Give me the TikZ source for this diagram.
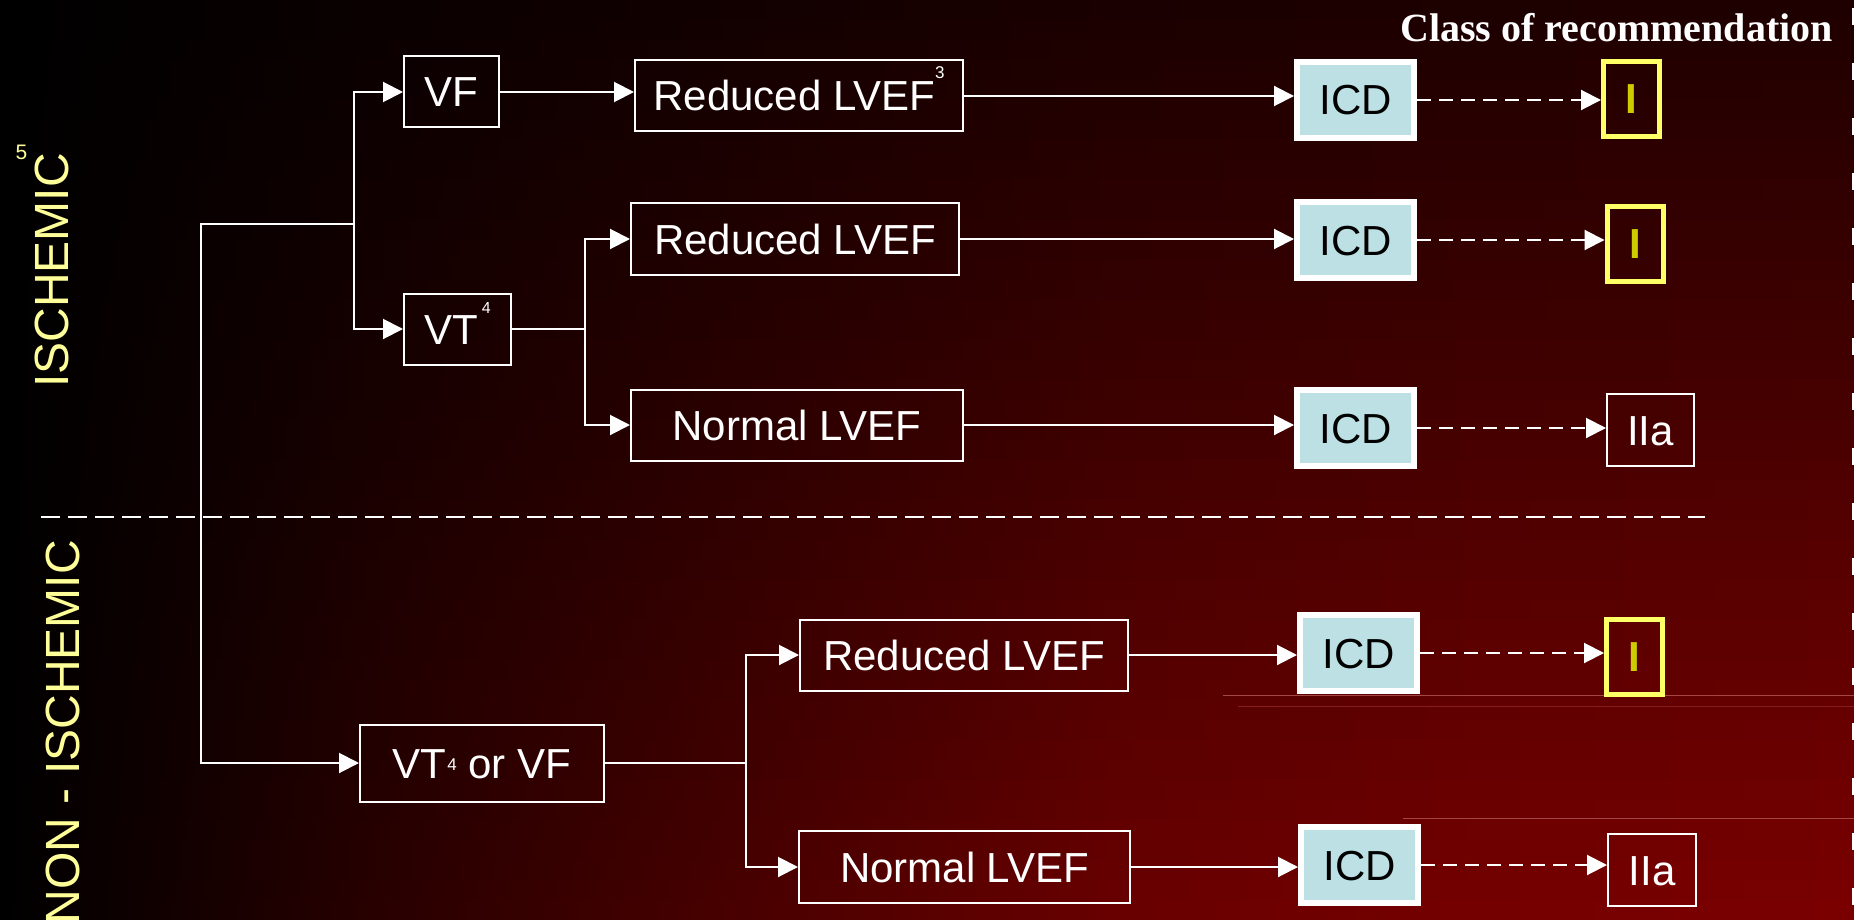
\documentclass[tikz,border=0pt]{standalone}
\usepackage{fontspec}
\setmainfont{Liberation Sans}
\newfontfamily\clsfont{Liberation Serif}
\usetikzlibrary{arrows.meta}
\definecolor{icdblue}{RGB}{188,224,228}
\definecolor{ylwbox}{RGB}{255,255,102}
\definecolor{olivey}{RGB}{204,204,0}
\definecolor{labely}{RGB}{255,255,153}
\definecolor{faintl}{RGB}{165,70,70}
\definecolor{faintd}{RGB}{135,30,30}
\definecolor{ca}{RGB}{0,0,0}
\definecolor{cb}{RGB}{0,0,0}
\definecolor{cc}{RGB}{0,0,0}
\definecolor{cd}{RGB}{0,0,0}
\definecolor{ce}{RGB}{0,0,0}
\pgfdeclarehorizontalshading[ca,cb,cc,cd,ce]{bgshade}{100bp}{color(0bp)=(black); color(25bp)=(black); color(35bp)=(ca); color(45bp)=(cb); color(55bp)=(cc); color(65bp)=(cd); color(75bp)=(ce); color(100bp)=(ce)}
\newcommand\boxfont{\fontsize{42}{42}\selectfont}
\newcommand\supfont{\fontsize{17}{17}\selectfont}
\begin{document}
\begin{tikzpicture}[x=1pt,y=-1pt,
  box/.style={draw=white, line width=2pt, text=white, inner sep=0pt, font=\boxfont, text height=30pt, text depth=0pt},
  icd/.style={draw=white, line width=6pt, fill=icdblue, text=black, inner sep=0pt, font=\boxfont, text height=30pt, text depth=0pt, minimum width=117pt, minimum height=76pt},
  clsbox/.style={draw=ylwbox, line width=5pt, text=olivey, inner sep=0pt, font=\boxfont\bfseries, text height=30pt, text depth=0pt, minimum width=56pt, minimum height=75pt},
  wire/.style={white, line width=2pt},
  arr/.style={wire, -{Triangle[length=20pt,width=20pt]}},
  darr/.style={arr, dash pattern=on 14pt off 8pt},
  lab/.style={rotate=90, inner sep=0pt, text=labely, font=\fontsize{48}{48}\selectfont}
]
\useasboundingbox (0,0) rectangle (1854,920);
% background
\foreach \i in {0,...,45}{
  \pgfmathtruncatemacro\rr{30+94*(\i+0.5)/46}
  \pgfmathtruncatemacro\ra{0.33*\rr}
  \pgfmathtruncatemacro\rb{0.60*\rr}
  \pgfmathtruncatemacro\rc{0.86*\rr}
  \pgfmathtruncatemacro\rd{0.96*\rr}
  \definecolor{ca}{RGB}{\ra,0,0}
  \definecolor{cb}{RGB}{\rb,0,0}
  \definecolor{cc}{RGB}{\rc,0,0}
  \definecolor{cd}{RGB}{\rd,0,0}
  \definecolor{ce}{RGB}{\rr,0,0}
  \shade[shading=bgshade] (0,{20*\i}) rectangle (1854,{20*\i+21});
}
% faint artefact lines
\draw[faintl, line width=1pt] (1223,695) -- (1854,695);
\draw[faintd, line width=1pt] (1238,706) -- (1854,706);
\draw[faintl, line width=1pt] (1403,818) -- (1854,818);
\draw[white, line width=2pt, dash pattern=on 17pt off 38pt] (1853,8) -- (1853,920);

% labels
\node[lab, anchor=base west] (isch) at (68,388) {ISCHEMIC};
\node[inner sep=0pt, text=labely, font=\fontsize{21}{21}\selectfont] (isch5) at (21.5,152.5) {5};
\node[lab, anchor=base east] (nonisch) at (79,540) {NON - ISCHEMIC};
\node[anchor=base east, inner sep=0pt, text=white, font=\clsfont\bfseries\fontsize{40}{40}\selectfont] (cls) at (1833,42) {Class of recommendation};

% separator
\draw[white, line width=2pt, dash pattern=on 19pt off 8pt] (41,517) -- (1705,517);

% nodes - ischemic
\node[box, minimum width=95pt, minimum height=71pt] (vf) at (451.5,92) {VF};
\node[box, minimum width=328pt, minimum height=71pt] (rl1) at (799,96) {Reduced LVEF\raisebox{32pt}{\supfont 3}};
\node[icd] (icd1) at (1355.5,100) {ICD};
\node[clsbox] (c1) at (1631.5,99) {I};

\node[box, minimum width=107pt, minimum height=71pt] (vt) at (457.5,329) {VT\kern4pt\raisebox{31pt}{\fontsize{16}{16}\selectfont 4}};
\node[box, minimum width=328pt, minimum height=72pt] (rl2) at (795,239) {Reduced LVEF};
\node[icd] (icd2) at (1355.5,240) {ICD};
\node[clsbox] (c2) at (1635,243.5) {I};

\node[box, minimum width=332pt, minimum height=71pt] (nl3) at (797,425) {Normal LVEF};
\node[icd] (icd3) at (1355.5,428) {ICD};
\node[box, minimum width=87pt, minimum height=72pt] (c3) at (1650.5,430) {IIa};

% nodes - non ischemic
\node[box, minimum width=244pt, minimum height=77pt] (vtvf) at (482,763) {VT\kern1pt\raisebox{8pt}{\supfont 4} or VF};
\node[box, minimum width=328pt, minimum height=71pt] (rl4) at (964,655) {Reduced LVEF};
\node[icd] (icd4) at (1358.5,653) {ICD};
\node[clsbox] (c4) at (1634.5,656.5) {I};
\node[box, minimum width=331pt, minimum height=72pt] (nl5) at (964.5,867) {Normal LVEF};
\node[icd] (icd5) at (1359.5,865) {ICD};
\node[box, minimum width=88pt, minimum height=72pt] (c5) at (1652,870) {IIa};

% connectors
\coordinate (top) at (201,224);
\coordinate (s1) at (354,224);
\coordinate (s2) at (585,0);
\coordinate (s3) at (746,0);
\draw[arr] (s1) -- (top) |- (vtvf.west);
\draw[arr] (s1) |- (vf.west);
\draw[arr] (s1) |- (vt.west);
\draw[arr] (vf.east) -- (vf.east -| rl1.west);
\draw[wire] (vt.east) -- (vt.east -| s2);
\draw[arr] (vt.east -| s2) |- (rl2.west);
\draw[arr] (vt.east -| s2) |- (nl3.west);
\draw[wire] (vtvf.east) -- (vtvf.east -| s3);
\draw[arr] (vtvf.east -| s3) |- (rl4.west);
\draw[arr] (vtvf.east -| s3) |- (nl5.west);

\draw[arr] (rl1.east) -- (rl1.east -| icd1.west);
\draw[arr] (rl2.east) -- (rl2.east -| icd2.west);
\draw[arr] (nl3.east) -- (nl3.east -| icd3.west);
\draw[arr] (rl4.east) -- (rl4.east -| icd4.west);
\draw[arr] (nl5.east) -- (nl5.east -| icd5.west);

\draw[darr] (icd1.east) -- (icd1.east -| c1.west);
\draw[darr] (icd2.east) -- (icd2.east -| c2.west);
\draw[darr] (icd3.east) -- (icd3.east -| c3.west);
\draw[darr] (icd4.east) -- (icd4.east -| c4.west);
\draw[darr] (icd5.east) -- (icd5.east -| c5.west);
\end{tikzpicture}
\end{document}
